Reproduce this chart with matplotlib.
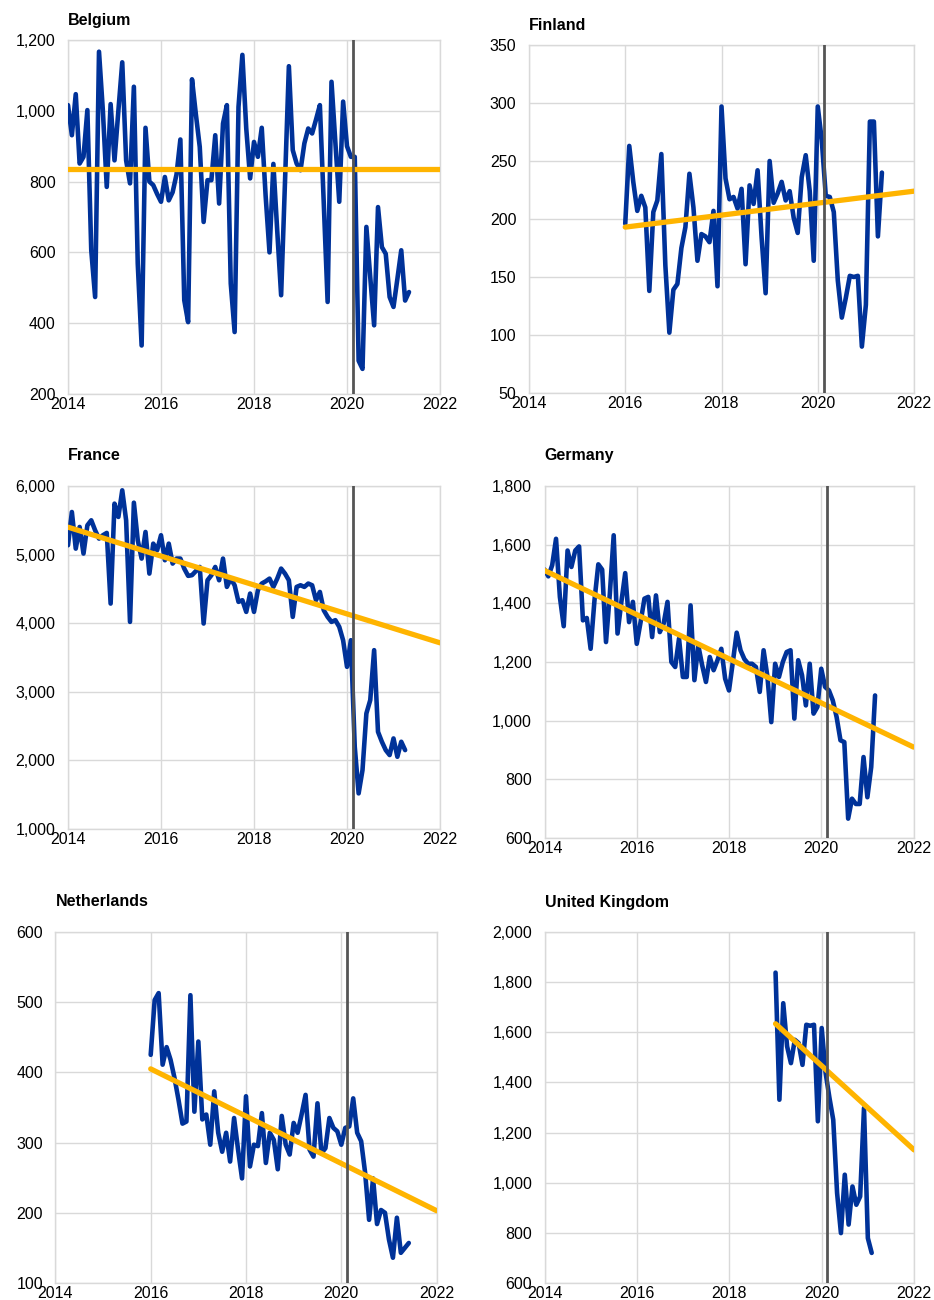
import matplotlib
matplotlib.use("Agg")
import matplotlib.pyplot as plt
import numpy as np
from matplotlib.ticker import FuncFormatter, MultipleLocator

plt.rcParams['font.family'] = ['Liberation Sans', 'DejaVu Sans']

BLUE = '#003299'
YELLOW = '#FFB400'
VLINE = '#555555'
GRID = '#d9d9d9'

# ---------------- data (monthly values) ----------------
belgium_start = 2014
belgium = [1016, 931, 1047, 851, 870, 1002, 606, 474, 1167, 1000, 785, 1019,
           860, 1000, 1137, 860, 795, 1068, 568, 337, 952, 800, 790, 765,
           743, 813, 747, 770, 820, 919, 465, 403, 1089, 990, 898, 686,
           804, 804, 931, 738, 964, 1016, 512, 375, 1011, 1158, 950, 809,
           912, 870, 952, 760, 600, 850, 660, 479, 800, 1126, 889, 851,
           832, 908, 950, 936, 975, 1016, 740, 460, 1082, 910, 743, 1026,
           900, 870, 870, 294, 271, 672, 530, 394, 728, 615, 596, 474,
           446, 525, 606, 464, 488]
belgium_trend = [835, 835]
belgium_trend_years = [2014, 2022]

finland_start = 2016
finland = [196, 263, 232, 207, 220, 210, 138, 206, 216, 256, 160, 102,
           139, 144, 175, 193, 239, 210, 164, 187, 185, 180, 207, 142,
           297, 235, 217, 219, 209, 226, 161, 229, 213, 242, 184, 136,
           250, 214, 222, 232, 216, 224, 201, 188, 236, 255, 224, 164,
           297, 268, 220, 219, 206, 147, 115, 132, 151, 150, 151, 90,
           126, 284, 284, 185, 240]
finland_trend = [193, 224]
finland_trend_years = [2016, 2022]

france_start = 2014
france = [5136, 5621, 5087, 5403, 5015, 5427, 5500, 5354, 5233, 5282, 5316, 4286,
          5743, 5549, 5937, 5500, 4019, 5757, 5209, 4942, 5330, 4723, 5160, 5063,
          5282, 4918, 5160, 4869, 4942, 4942, 4796, 4690, 4700, 4760, 4820, 3995,
          4626, 4699, 4820, 4626, 4942, 4529, 4650, 4553, 4311, 4335, 4165, 4432,
          4165, 4480, 4578, 4610, 4650, 4529, 4650, 4796, 4723, 4626, 4092, 4529,
          4553, 4529, 4578, 4553, 4335, 4456, 4189, 4092, 4019, 4044, 3947, 3750,
          3364, 3752, 2199, 1519, 1859, 2684, 2879, 3607, 2417, 2272, 2150, 2078,
          2320, 2053, 2272, 2150]
france_trend = [5400, 3714]
france_trend_years = [2014, 2022]

germany_start = 2014
germany = [1515, 1492, 1530, 1620, 1422, 1322, 1580, 1524, 1580, 1594, 1342, 1350,
           1245, 1410, 1533, 1515, 1268, 1433, 1632, 1297, 1405, 1503, 1336, 1405,
           1262, 1336, 1416, 1422, 1285, 1427, 1302, 1331, 1405, 1200, 1183, 1280,
           1149, 1149, 1393, 1138, 1257, 1190, 1132, 1217, 1172, 1206, 1245, 1143,
           1103, 1200, 1300, 1240, 1210, 1194, 1194, 1183, 1098, 1240, 1150, 995,
           1194, 1149, 1200, 1234, 1240, 1007, 1206, 1155, 1052, 1194, 1024, 1047,
           1177, 1115, 1103, 1069, 1012, 933, 927, 666, 734, 716, 716, 876,
           739, 842, 1086]
germany_trend = [1512, 910]
germany_trend_years = [2014, 2022]

netherlands_start = 2016
netherlands = [425, 503, 513, 411, 436, 418, 392, 361, 327, 330, 510, 344,
               444, 333, 340, 297, 373, 314, 287, 314, 273, 335, 290, 249,
               366, 266, 297, 295, 342, 271, 314, 304, 262, 338, 297, 283,
               328, 314, 340, 368, 290, 280, 356, 285, 292, 335, 321, 316,
               297, 321, 323, 363, 314, 302, 257, 190, 249, 184, 204, 200,
               162, 136, 193, 143, 150, 157]
netherlands_trend = [405, 203]
netherlands_trend_years = [2016, 2022]

uk_start = 2019
uk = [1838, 1331, 1716, 1544, 1477, 1570, 1557, 1470, 1630, 1626, 1630, 1245,
      1617, 1440, 1340, 1251, 959, 799, 1032, 833, 985, 912, 945, 1298,
      779, 720]
uk_trend = [1634, 1131]
uk_trend_years = [2019, 2022]

covid_marker = 2020.12
x_ticks = [2014, 2016, 2018, 2020, 2022]

panels = [
    dict(title='Belgium', values=belgium, start=belgium_start,
         trend=belgium_trend, trend_years=belgium_trend_years,
         ylim=(200, 1200), ystep=200,
         rect=(68, 40, 440, 394), title_y=21),
    dict(title='Finland', values=finland, start=finland_start,
         trend=finland_trend, trend_years=finland_trend_years,
         ylim=(50, 350), ystep=50,
         rect=(529, 45, 914, 393), title_y=25),
    dict(title='France', values=france, start=france_start,
         trend=france_trend, trend_years=france_trend_years,
         ylim=(1000, 6000), ystep=1000,
         rect=(68, 486, 440, 829), title_y=456),
    dict(title='Germany', values=germany, start=germany_start,
         trend=germany_trend, trend_years=germany_trend_years,
         ylim=(600, 1800), ystep=200,
         rect=(544.5, 486, 913.5, 838), title_y=456),
    dict(title='Netherlands', values=netherlands, start=netherlands_start,
         trend=netherlands_trend, trend_years=netherlands_trend_years,
         ylim=(100, 600), ystep=100,
         rect=(55.4, 932, 436.6, 1283), title_y=902),
    dict(title='United Kingdom', values=uk, start=uk_start,
         trend=uk_trend, trend_years=uk_trend_years,
         ylim=(600, 2000), ystep=200,
         rect=(544.8, 932, 914, 1283), title_y=902),
]

W, H = 934, 1300
fig = plt.figure(figsize=(W / 100, H / 100), dpi=100)

fmt = FuncFormatter(lambda v, p: f"{v:,.0f}")

for p in panels:
    x0, y0, x1, y1 = p['rect']
    ax = fig.add_axes([x0 / W, 1 - y1 / H, (x1 - x0) / W, (y1 - y0) / H])
    vals = np.array(p['values'], dtype=float)
    xs = p['start'] + np.arange(len(vals)) / 12.0
    ax.plot(xs, vals, color=BLUE, lw=3.3, solid_joinstyle='round',
            solid_capstyle='round', zorder=3)
    ax.plot(p['trend_years'], p['trend'], color=YELLOW, lw=3.8,
            solid_capstyle='round', zorder=4)
    ax.axvline(covid_marker, color=VLINE, lw=2.0, zorder=5)
    ax.set_xlim(2014, 2022)
    ax.set_ylim(*p['ylim'])
    ax.set_xticks(x_ticks)
    ax.yaxis.set_major_locator(MultipleLocator(p['ystep']))
    ax.yaxis.set_major_formatter(fmt)
    ax.grid(True, color=GRID, lw=1.0, zorder=0)
    ax.set_axisbelow(True)
    for s in ax.spines.values():
        s.set_color(GRID)
        s.set_linewidth(1.0)
    ax.tick_params(axis='both', length=0, labelsize=11.5, colors='#000000')
    ax.tick_params(axis='y', pad=9)
    ax.tick_params(axis='x', pad=2)
    fig.text(x0 / W, 1 - p['title_y'] / H, p['title'], fontsize=11.5,
             fontweight='bold', ha='left', va='center')

fig.savefig('out.png', dpi=100)
